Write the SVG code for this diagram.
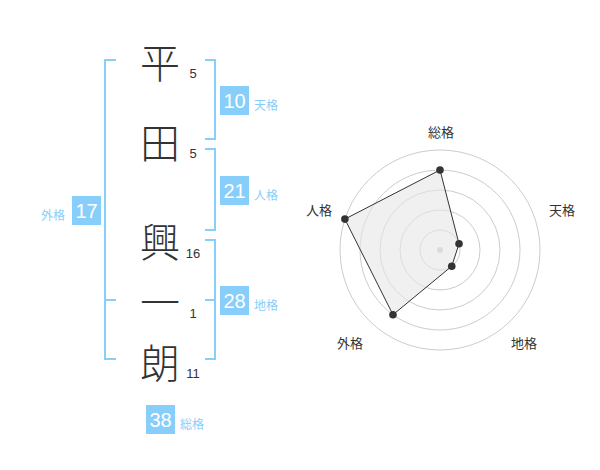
<svg xmlns="http://www.w3.org/2000/svg" width="600" height="470" viewBox="0 0 600 470">
<style>
.bg{fill:#ffffff}
.kanji{font-family:"Noto Sans CJK JP","Noto Sans CJK SC",sans-serif;font-size:40px;font-weight:300;fill:#333333;text-anchor:middle;dominant-baseline:central}
.num{font-family:"Liberation Sans",Arial,sans-serif;font-size:13px;fill:#333333;text-anchor:middle}
.br{fill:none;stroke:#87cefa;stroke-width:2}
.box{fill:#87cefa}
.bnum{font-family:"Liberation Sans",Arial,sans-serif;font-size:20px;fill:#ffffff;text-anchor:middle}
.blab{font-family:"Noto Sans CJK JP","Noto Sans CJK SC",sans-serif;font-size:12px;fill:#87cefa;dominant-baseline:central}
.ring{fill:none;stroke:#cccccc;stroke-width:1}
.rlab{font-family:"Noto Sans CJK JP","Noto Sans CJK SC",sans-serif;font-size:13px;fill:#333333;text-anchor:middle;dominant-baseline:central}
.dot{fill:#333333}
</style>
<rect class="bg" x="0" y="0" width="600" height="470"/>

<g id="name-chars">
<g id="char-hira"><text class="kanji" x="160" y="61">平</text><text class="num" x="193" y="77.5">5</text></g>
<g id="char-ta"><text class="kanji" x="160" y="141">田</text><text class="num" x="193" y="157.5">5</text></g>
<g id="char-kou"><text class="kanji" x="160" y="240">興</text><text class="num" x="193" y="257.5">16</text></g>
<g id="char-ichi"><text class="kanji" x="160" y="300">一</text><text class="num" x="193" y="317.5">1</text></g>
<g id="char-rou"><text class="kanji" x="160" y="361">朗</text><text class="num" x="193" y="377.5">11</text></g>
</g>

<g id="connectors">
<path class="br" d="M116,60 H105 V359 H116 M105,300 H116"/>
<path class="br" d="M205,60 H215 V139 H205"/>
<path class="br" d="M205,149 H215 V230 H205"/>
<path class="br" d="M205,240 H215 V359 H205 M205,300 H215"/>
</g>

<g id="tenkaku"><rect class="box" x="220" y="86" width="29" height="29"/><text class="bnum" x="234.5" y="107.5">10</text><text class="blab" x="254" y="104">天格</text></g>
<g id="jinkaku"><rect class="box" x="220" y="176" width="29" height="29"/><text class="bnum" x="234.5" y="197.5">21</text><text class="blab" x="254" y="194">人格</text></g>
<g id="chikaku"><rect class="box" x="220" y="286" width="29" height="29"/><text class="bnum" x="234.5" y="307.5">28</text><text class="blab" x="254" y="304">地格</text></g>
<g id="gaikaku"><rect class="box" x="72" y="196" width="29" height="29"/><text class="bnum" x="86.5" y="217.5">17</text><text class="blab" x="41" y="214">外格</text></g>
<g id="soukaku"><rect class="box" x="146" y="405" width="29" height="29"/><text class="bnum" x="160.5" y="426.5">38</text><text class="blab" x="180" y="423">総格</text></g>

<g id="radar">
<circle class="ring" cx="440" cy="250" r="20"/>
<circle class="ring" cx="440" cy="250" r="40"/>
<circle class="ring" cx="440" cy="250" r="60"/>
<circle class="ring" cx="440" cy="250" r="80"/>
<circle class="ring" cx="440" cy="250" r="100"/>
<circle cx="440" cy="250" r="3" fill="#cccccc"/>
<polygon points="440,170 459.02,243.82 451.76,266.18 392.98,314.72 344.89,219.1" fill="#e6e6e6" fill-opacity="0.6" stroke="#333333" stroke-width="1"/>
<circle class="dot" cx="440" cy="170" r="3.8"/>
<circle class="dot" cx="459.02" cy="243.82" r="3.8"/>
<circle class="dot" cx="451.76" cy="266.18" r="3.8"/>
<circle class="dot" cx="392.98" cy="314.72" r="3.8"/>
<circle class="dot" cx="344.89" cy="219.1" r="3.8"/>
<text class="rlab" x="441" y="131">総格</text>
<text class="rlab" x="562" y="209">天格</text>
<text class="rlab" x="319" y="209">人格</text>
<text class="rlab" x="350" y="342.5">外格</text>
<text class="rlab" x="524" y="342.5">地格</text>
</g>
</svg>
